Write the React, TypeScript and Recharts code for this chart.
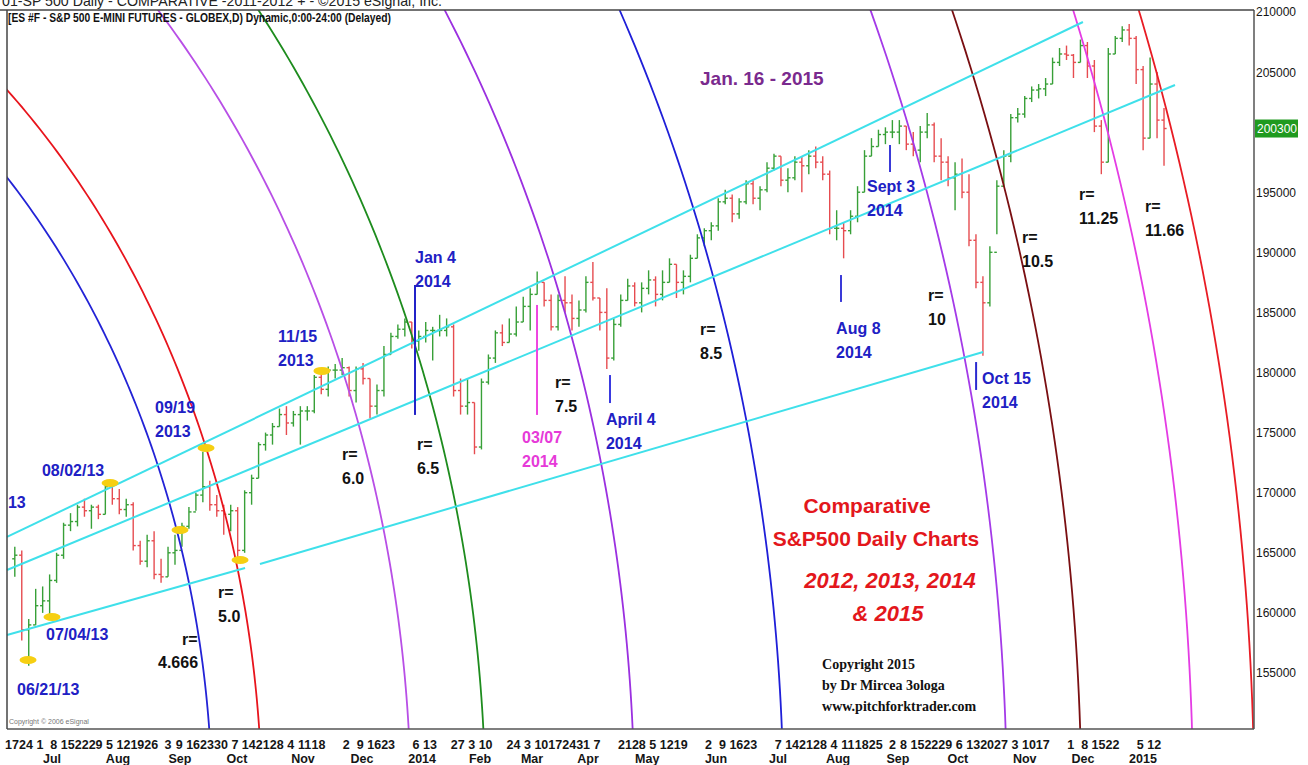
import React from 'react';
import { ComposedChart, Bar, Line, XAxis, YAxis, ReferenceLine, ReferenceDot, Scatter } from 'recharts';

// ---- price bars (ES points), two bars per week starting week of Jun 17 2013 ----
const barHighs = [
  1655, 1652, 1595, 1620, 1622, 1632, 1650, 1675, 1683, 1690, 1695, 1690, 1690, 1708, 1708, 1703,
  1695, 1692, 1660, 1665, 1668, 1645, 1655, 1665, 1675, 1688, 1700, 1734, 1710, 1698, 1690, 1690,
  1688, 1702, 1715, 1742, 1750, 1758, 1770, 1772, 1768, 1772, 1772, 1798, 1800, 1805, 1807, 1812,
  1805, 1805, 1808, 1795, 1790, 1822, 1833, 1840, 1845, 1842, 1835, 1842, 1838, 1848, 1845, 1840,
  1795, 1795, 1775, 1795, 1815, 1835, 1840, 1845, 1855, 1863, 1870, 1884, 1875, 1865, 1865, 1880,
  1865, 1860, 1880, 1892, 1862, 1870, 1845, 1865, 1878, 1875, 1875, 1885, 1880, 1885, 1895, 1890,
  1885, 1898, 1915, 1920, 1925, 1945, 1952, 1948, 1945, 1960, 1960, 1955, 1975, 1982, 1980, 1970,
  1980, 1980, 1985, 1988, 1980, 1968, 1935, 1925, 1935, 1955, 1985, 1995, 2002, 2004, 2010, 2010,
  2005, 2000, 2005, 2016, 2008, 1995, 1980, 1975, 1978, 1965, 1915, 1880, 1905, 1960, 1985, 2015,
  2020, 2030, 2038, 2040, 2045, 2062, 2070, 2072, 2065, 2077, 2075, 2060, 2010, 2070, 2080, 2088,
  2090, 2080, 2055, 2062, 2050, 2020,
];
const barLows = [
  1630, 1577, 1556, 1590, 1600, 1598, 1625, 1645, 1668, 1672, 1680, 1670, 1678, 1682, 1690, 1682,
  1680, 1652, 1640, 1638, 1628, 1625, 1630, 1640, 1655, 1670, 1685, 1692, 1685, 1680, 1665, 1668,
  1646, 1650, 1690, 1712, 1735, 1740, 1755, 1748, 1755, 1740, 1760, 1766, 1782, 1780, 1795, 1798,
  1780, 1775, 1790, 1762, 1765, 1780, 1815, 1828, 1830, 1820, 1818, 1825, 1810, 1830, 1830, 1780,
  1765, 1765, 1732, 1736, 1790, 1808, 1822, 1825, 1830, 1842, 1835, 1865, 1855, 1835, 1835, 1850,
  1835, 1838, 1850, 1860, 1835, 1803, 1810, 1838, 1860, 1855, 1850, 1865, 1855, 1860, 1875, 1862,
  1865, 1875, 1895, 1905, 1910, 1918, 1940, 1925, 1928, 1940, 1940, 1935, 1950, 1968, 1955, 1950,
  1960, 1950, 1965, 1970, 1960, 1915, 1910, 1895, 1915, 1925, 1950, 1980, 1988, 1990, 1995, 1990,
  1985, 1980, 1975, 1995, 1975, 1960, 1955, 1935, 1945, 1905, 1870, 1814, 1855, 1915, 1955, 1975,
  2008, 2012, 2025, 2028, 2030, 2040, 2055, 2060, 2045, 2058, 2045, 2000, 1965, 1975, 2065, 2075,
  2072, 2040, 1985, 1995, 1995, 1972,
];
const barCloses = [
  1648, 1586, 1590, 1606, 1610, 1627, 1648, 1673, 1676, 1688, 1685, 1688, 1682, 1705, 1695, 1686,
  1690, 1656, 1643, 1660, 1632, 1630, 1650, 1652, 1672, 1684, 1698, 1705, 1690, 1685, 1682, 1685,
  1652, 1700, 1712, 1740, 1748, 1755, 1765, 1758, 1765, 1768, 1768, 1796, 1786, 1802, 1802, 1804,
  1785, 1803, 1795, 1772, 1785, 1815, 1830, 1836, 1842, 1826, 1830, 1835, 1835, 1835, 1838, 1785,
  1772, 1775, 1738, 1792, 1812, 1833, 1825, 1832, 1842, 1855, 1865, 1875, 1860, 1838, 1860, 1858,
  1845, 1852, 1875, 1862, 1850, 1812, 1840, 1860, 1872, 1858, 1870, 1877, 1865, 1875, 1890, 1875,
  1880, 1895, 1912, 1918, 1922, 1942, 1945, 1932, 1942, 1957, 1945, 1952, 1970, 1980, 1960, 1962,
  1975, 1972, 1980, 1975, 1965, 1920, 1920, 1918, 1930, 1950, 1980, 1988, 1998, 2000, 2000, 2005,
  1990, 1985, 2000, 2006, 1980, 1975, 1962, 1965, 1950, 1910, 1875, 1858, 1900, 1955, 1980, 2012,
  2015, 2028, 2035, 2036, 2040, 2058, 2065, 2064, 2058, 2072, 2055, 2005, 1975, 2065, 2078, 2085,
  2078, 2052, 1995, 2040, 2010, 2003,
];
const firstOpen = 1645;

// ---- x axis: weekly day-number ticks (week index) and month names ----
const dayTickWeeks = [
  0, 1, 2, 3, 4, 5, 6, 7, 8, 9, 10, 11.2, 12, 13, 14, 15, 16, 17, 18, 19, 20, 21, 22, 24, 25, 26, 27,
  29, 30, 32, 33, 34, 36, 37, 38, 39, 40, 41, 42, 44, 45, 46, 47, 48, 50, 51, 52, 53, 55, 56, 57, 58,
  59, 60, 61, 62, 63.2, 64, 65, 66, 67, 68, 69, 70, 71, 72, 73, 74, 76, 77, 78, 79, 81, 82,
];
const dayTickLabels = [
  '17', '24', '1', '8', '15', '22', '29', '5', '12', '19', '26', '3', '9', '16', '23', '30', '7', '14', '21', '28', '4', '11', '18', '2', '9', '16', '23',
  '6', '13', '27', '3', '10', '24', '3', '10', '17', '24', '31', '7', '21', '28', '5', '12', '19', '2', '9', '16', '23', '7', '14', '21', '28',
  '4', '11', '18', '25', '2', '8', '15', '22', '29', '6', '13', '20', '27', '3', '10', '17', '1', '8', '15', '22', '5', '12',
];
const monthTickWeeks = [2.87, 7.61, 12.06, 16.15, 20.89, 25.13, 29.44, 33.6, 37.33, 41.35, 45.6, 50.54, 54.99, 59.3, 63.6, 67.9, 72.7, 76.88, 81.19];
const monthTickLabels = ['Jul', 'Aug', 'Sep', 'Oct', 'Nov', 'Dec', '2014', 'Feb', 'Mar', 'Apr', 'May', 'Jun', 'Jul', 'Aug', 'Sep', 'Oct', 'Nov', 'Dec', '2015'];

// ---- price axis ticks (ES points; shown x100); 2000 is covered by the last-price badge ----
const priceTicks = [1550, 1600, 1650, 1700, 1750, 1800, 1850, 1900, 1950, 2050, 2100];

// ---- arcs: radii r and colors, centre and unit (week, points) ----
const arcRadii = [4.666, 5.0, 6.0, 6.5, 7.5, 8.5, 10, 10.5, 11.25, 11.66];
const arcColors = ['#2323d6', '#e8141c', '#b84fe6', '#1e8c1e', '#9b30e0', '#1f1fd8', '#a43ae8', '#7a0f12', '#e43ce4', '#e81c24'];
const arcCenter = { w: -35.53, p: 1433.6 };
const arcUnit = { w: 10.696, p: 159.7 };

// ---- cyan channel lines [w1, p1, w2, p2] ----
const channelLines = [
  [-0.36, 1663.2, 76.88, 2091.6],
  [-0.36, 1635.7, 83.49, 2039.2],
  [-0.36, 1581.6, 16.73, 1637.4],
  [17.8, 1640.7, 69.71, 1817.1],
];

// ---- vertical date markers [w, pTop, pBottom, color] ----
const dateMarkers: [number, number, number, string][] = [
  [28.93, 1872.8, 1764.7, '#2323c8'],
  [37.69, 1856.2, 1764.7, '#ee44e0'],
  [42.93, 1797.9, 1774.6, '#3a3ae0'],
  [59.51, 1881.1, 1858.7, '#3a3ad8'],
  [63.03, 1989.3, 1966.8, '#3a3ad8'],
  [69.21, 1808.7, 1785.5, '#2a2ad0'],
];

// ---- yellow pivot markers ----
const pivotWeeks = [1.15, 2.87, 7.04, 12.06, 13.93, 16.37, 22.25];
const pivotPrices = [1560.8, 1596.6, 1708.1, 1669, 1737.2, 1644, 1801.3];

const BLUE = '#2020c4';
const PINK = '#e63ad8';
const BLACK = '#111111';
const RED = '#e3171c';
const PURPLE = '#7a2a8e';
const GREEN = '#38a038';
const BARRED = '#e64c50';

type Anno = {
  w: number; p: number; lines: string[]; color?: string; size?: number; lh?: number;
  anchor?: 'start' | 'middle' | 'end'; italic?: boolean; serif?: boolean;
};
const annotations: Anno[] = [
  { w: -0.29, p: 1687.3, lines: ['13'], color: BLUE },
  { w: 2.15, p: 1713.9, lines: ['08/02/13'], color: BLUE },
  { w: 2.44, p: 1577.5, lines: ['07/04/13'], color: BLUE },
  { w: 0.36, p: 1531.7, lines: ['06/21/13'], color: BLUE },
  { w: 10.27, p: 1766.3, lines: ['09/19', '2013'], color: BLUE },
  { w: 19.1, p: 1825.4, lines: ['11/15', '2013'], color: BLUE },
  { w: 28.93, p: 1891.1, lines: ['Jan 4', '2014'], color: BLUE },
  { w: 36.61, p: 1741.4, lines: ['03/07', '2014'], color: PINK },
  { w: 42.64, p: 1756.3, lines: ['April 4', '2014'], color: BLUE },
  { w: 59.16, p: 1832, lines: ['Aug 8', '2014'], color: BLUE },
  { w: 61.38, p: 1950.2, lines: ['Sept 3', '2014'], color: BLUE },
  { w: 69.64, p: 1790.4, lines: ['Oct 15', '2014'], color: BLUE },
  { w: 12.2, p: 1573.3, lines: ['r='] },
  { w: 10.48, p: 1554.2, lines: ['4.666'] },
  { w: 14.79, p: 1612.4, lines: ['r=', '5.0'] },
  { w: 23.69, p: 1727.2, lines: ['r=', '6.0'] },
  { w: 29.07, p: 1735.5, lines: ['r=', '6.5'] },
  { w: 38.98, p: 1787.1, lines: ['r=', '7.5'] },
  { w: 49.39, p: 1831.2, lines: ['r=', '8.5'] },
  { w: 65.76, p: 1859.5, lines: ['r=', '10'] },
  { w: 72.51, p: 1907.7, lines: ['r=', '10.5'] },
  { w: 76.6, p: 1943.5, lines: ['r=', '11.25'] },
  { w: 81.34, p: 1933.5, lines: ['r=', '11.66'] },
  { w: 49.39, p: 2039.2, lines: ['Jan. 16 - 2015'], color: PURPLE, size: 19 },
  { w: 61.38, p: 1683.1, lines: ['Comparative'], color: RED, size: 21, anchor: 'middle' },
  { w: 62.02, p: 1655.7, lines: ['S&P500 Daily Charts'], color: RED, size: 21, anchor: 'middle' },
  { w: 63.03, p: 1620.7, lines: ['2012, 2013, 2014'], color: RED, size: 22, anchor: 'middle', italic: true },
  { w: 62.89, p: 1593.3, lines: ['& 2015'], color: RED, size: 22, anchor: 'middle', italic: true },
  { w: 58.15, p: 1553.3, lines: ['Copyright 2015', 'by Dr Mircea 3ologa', 'www.pitchforktrader.com'], color: BLACK, size: 14, lh: 21, serif: true },
];

// ---- build tables ----
const bars = barCloses.map((c, i) => {
  const open = i === 0 ? firstOpen : barCloses[i - 1];
  return {
    w: Math.floor(i / 2) + (i % 2 === 0 ? 0.2 : 0.7),
    range: [barLows[i], barHighs[i]],
    high: barHighs[i],
    low: barLows[i],
    open,
    close: c,
  };
});
const lastClose = barCloses[barCloses.length - 1];

const arcData = arcRadii.map((r) => {
  const pts: { w: number; p: number }[] = [];
  const n = 160;
  for (let k = 0; k <= n; k++) {
    const t = (k / n) * 1.35;
    pts.push({ w: arcCenter.w + r * arcUnit.w * Math.cos(t), p: arcCenter.p + r * arcUnit.p * Math.sin(t) });
  }
  return pts;
});

const pivots = pivotWeeks.map((w, i) => ({ w, p: pivotPrices[i] }));

const X_DOMAIN: [number, number] = [-0.36, 89.16];
const Y_DOMAIN: [number, number] = [1503.4, 2101.6];
const SANS = '"Liberation Sans", Arial, sans-serif';
const SERIF = '"Liberation Serif", "Times New Roman", serif';

const OhlcBar = (props: any) => {
  const { x, y, width, height, payload } = props;
  if (!payload || height == null || x == null) return null;
  const top = Math.min(y, y + height);
  const h = Math.abs(height);
  const { high, low, open, close } = payload;
  const span = high - low || 1;
  const yOf = (v: number) => top + ((high - v) / span) * h;
  const cx = x + width / 2;
  const color = close >= open ? GREEN : BARRED;
  return (
    <g stroke={color} strokeWidth={1.4}>
      <line x1={cx} x2={cx} y1={top} y2={top + h} />
      <line x1={cx - 2.6} x2={cx} y1={yOf(open)} y2={yOf(open)} />
      <line x1={cx} x2={cx + 2.6} y1={yOf(close)} y2={yOf(close)} />
    </g>
  );
};

const Pill = (props: any) => {
  const { cx, cy } = props;
  if (cx == null) return null;
  return <ellipse cx={cx} cy={cy} rx={8.5} ry={4} fill="#f6cf12" />;
};

const DayTick = (props: any) => {
  const { x, y, payload } = props;
  const idx = dayTickWeeks.indexOf(payload.value);
  return (
    <text x={x} y={y + 20} textAnchor="middle" fontSize={12.5} fontWeight="bold" fontFamily={SANS} fill="#151515">
      {idx >= 0 ? dayTickLabels[idx] : ''}
    </text>
  );
};

const MonthTick = (props: any) => {
  const { x, y, payload } = props;
  const idx = monthTickWeeks.indexOf(payload.value);
  return (
    <text x={x} y={y + 14} textAnchor="middle" fontSize={12.5} fontWeight="bold" fontFamily={SANS} fill="#151515">
      {idx >= 0 ? monthTickLabels[idx] : ''}
    </text>
  );
};

const PriceTick = (props: any) => {
  const { x, y, payload } = props;
  return (
    <text x={x + 2} y={y + 4.5} textAnchor="start" fontSize={12} fontFamily={SANS} fill="#151515">
      {Math.round(payload.value * 100)}
    </text>
  );
};

const makeAnnoShape = (a: Anno) => (props: any) => {
  const { cx, cy } = props;
  if (cx == null) return null;
  const size = a.size ?? 16;
  const lh = a.lh ?? 24;
  return (
    <text
      x={cx}
      y={cy}
      fill={a.color ?? BLACK}
      fontSize={size}
      fontWeight="bold"
      fontStyle={a.italic ? 'italic' : 'normal'}
      fontFamily={a.serif ? SERIF : SANS}
      textAnchor={a.anchor ?? 'start'}
    >
      {a.lines.map((l, i) => (
        <tspan key={i} x={cx} dy={i === 0 ? 0 : lh}>
          {l}
        </tspan>
      ))}
    </text>
  );
};

const LastBadge = (props: any) => {
  const { cx, cy } = props;
  if (cx == null) return null;
  return (
    <g>
      <rect x={cx + 1} y={cy - 9} width={43} height={18} fill="#1f9a1f" />
      <text x={cx + 3} y={cy + 4.5} fontSize={12} fontFamily={SANS} fill="#ffffff">
        {Math.round(lastClose * 100)}
      </text>
    </g>
  );
};

export default function App() {
  return (
    <div style={{ position: 'absolute', left: 0, top: 0, width: 1308, height: 765, background: '#ffffff', overflow: 'hidden' }}>
      <ComposedChart width={1308} height={765} data={bars} margin={{ top: 10, right: 0, bottom: 0, left: 7 }}>
        <XAxis
          xAxisId={0}
          dataKey="w"
          type="number"
          domain={X_DOMAIN}
          allowDataOverflow
          ticks={dayTickWeeks}
          interval={0}
          tick={<DayTick />}
          tickLine={false}
          tickSize={0}
          tickMargin={0}
          axisLine={{ stroke: '#555', strokeWidth: 1.5 }}
          height={20}
        />
        <XAxis
          xAxisId="m"
          dataKey="w"
          type="number"
          domain={X_DOMAIN}
          allowDataOverflow
          ticks={monthTickWeeks}
          interval={0}
          tick={<MonthTick />}
          tickLine={false}
          tickSize={0}
          tickMargin={0}
          axisLine={false}
          height={16}
        />
        <YAxis
          orientation="right"
          type="number"
          domain={Y_DOMAIN}
          allowDataOverflow
          ticks={priceTicks}
          interval={0}
          tick={<PriceTick />}
          tickLine={false}
          tickSize={0}
          tickMargin={0}
          axisLine={{ stroke: '#555', strokeWidth: 1.5 }}
          width={54}
        />
        <Bar dataKey="range" barSize={3} shape={<OhlcBar />} isAnimationActive={false} />
        {arcData.map((pts, i) => (
          <Line
            key={'arc' + i}
            data={pts}
            dataKey="p"
            type="linear"
            stroke={arcColors[i]}
            strokeWidth={1.8}
            dot={false}
            activeDot={false}
            isAnimationActive={false}
          />
        ))}
        {channelLines.map((c, i) => (
          <ReferenceLine
            key={'ch' + i}
            segment={[{ x: c[0], y: c[1] }, { x: c[2], y: c[3] }]}
            stroke="#3fe0ea"
            strokeWidth={2}
            ifOverflow="visible"
          />
        ))}
        {dateMarkers.map((m, i) => (
          <ReferenceLine
            key={'dm' + i}
            segment={[{ x: m[0], y: m[1] }, { x: m[0], y: m[2] }]}
            stroke={m[3]}
            strokeWidth={2}
            ifOverflow="visible"
          />
        ))}
        <Scatter data={pivots} dataKey="p" shape={<Pill />} isAnimationActive={false} />
        {annotations.map((a, i) => (
          <ReferenceDot key={'an' + i} x={a.w} y={a.p} r={0} ifOverflow="visible" shape={makeAnnoShape(a)} />
        ))}
        <ReferenceDot x={X_DOMAIN[1]} y={lastClose} r={0} ifOverflow="visible" shape={LastBadge} />
      </ComposedChart>
      <svg width={1308} height={765} style={{ position: 'absolute', left: 0, top: 0, pointerEvents: 'none' }}>
        <text x={2} y={6} fontSize={15} fontFamily={SANS} fill="#222" textLength={440} lengthAdjust="spacingAndGlyphs">
          01-SP 500 Daily - COMPARATIVE -2011-2012 + - ©2015 eSignal, Inc.
        </text>
        <line x1={0} x2={1254} y1={10} y2={10} stroke="#444" strokeWidth={1.5} />
        <line x1={7} x2={7} y1={10} y2={729} stroke="#444" strokeWidth={1.5} />
        <text x={8} y={22} fontSize={13} fontWeight="bold" fontFamily={SANS} fill="#111" textLength={383} lengthAdjust="spacingAndGlyphs">
          [ES #F - S&amp;P 500 E-MINI FUTURES - GLOBEX,D) Dynamic,0:00-24:00 (Delayed)
        </text>
        <text x={9} y={724} fontSize={7} fontFamily={SANS} fill="#777">
          Copyright © 2006 eSignal
        </text>
      </svg>
    </div>
  );
}
